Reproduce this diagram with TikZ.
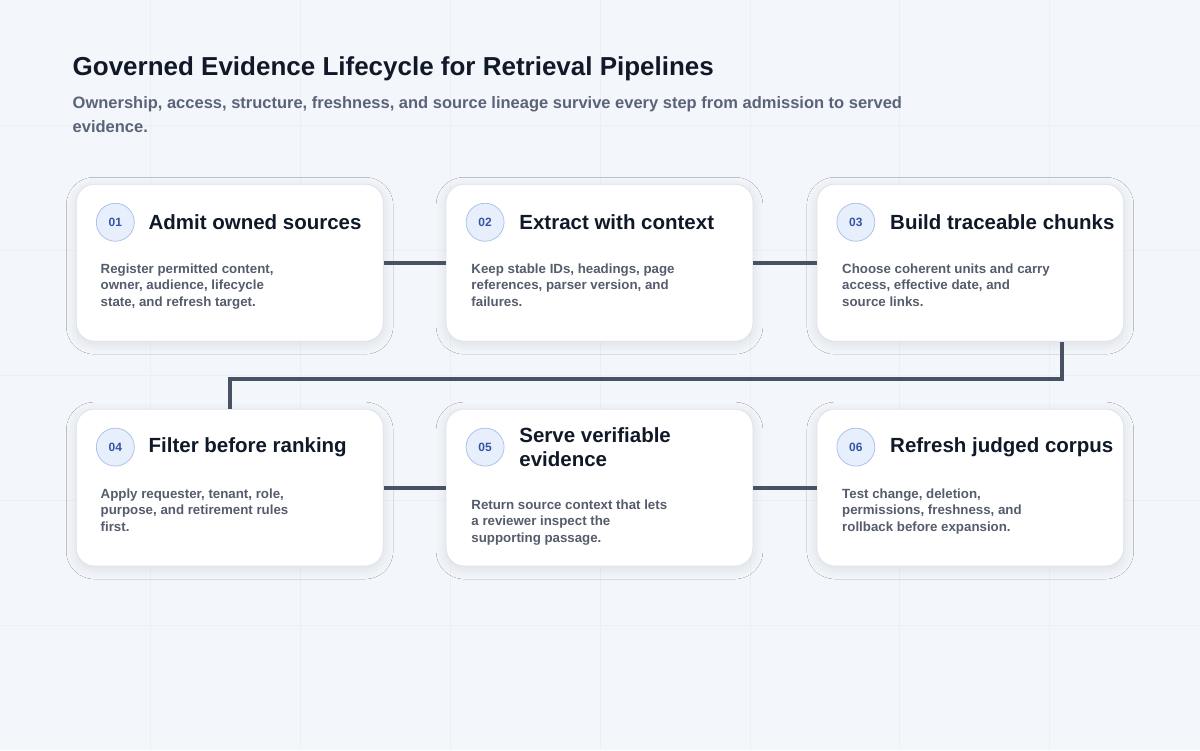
\documentclass[tikz,border=0pt]{standalone}
\usepackage{fontspec}
\setmainfont{Liberation Sans}
\usetikzlibrary{positioning,shadows.blur}
\definecolor{bgc}{RGB}{243,246,251}
\definecolor{gridc}{RGB}{236,240,246}
\definecolor{inkc}{RGB}{17,24,39}
\definecolor{subc}{RGB}{90,100,120}
\definecolor{bodyc}{RGB}{85,92,108}
\definecolor{linkc}{RGB}{72,82,100}
\definecolor{badgec}{RGB}{232,239,252}
\definecolor{badgeb}{RGB}{170,192,235}
\definecolor{numc}{RGB}{52,84,170}
\definecolor{cardb}{RGB}{222,226,234}
\tikzset{every picture/.style={line width=0.75pt},
  card/.style={draw=cardb,fill=white,rounded corners=18pt,minimum width=307pt,minimum height=157pt,inner sep=0pt,
    blur shadow={shadow blur steps=12,shadow blur radius=10pt,shadow xshift=0pt,shadow yshift=-3pt,shadow opacity=10}},
  badge/.style={circle,draw=badgeb,fill=badgec,minimum size=38pt,inner sep=0pt,font=\fontsize{12}{12}\selectfont\bfseries,text=numc},
  ctitle/.style={anchor=west,inner sep=0pt,font=\fontsize{20.5}{24}\selectfont\bfseries,text=inkc,align=left},
  cbody/.style={anchor=north west,inner sep=0pt,font=\fontsize{13.3}{16.5}\selectfont\bfseries,text=bodyc,align=left},
  link/.style={draw=linkc,line width=4pt}}
\begin{document}
\begin{tikzpicture}[x=1pt,y=-1pt]
		\fill[bgc] (0,0) rectangle (1200,750);
		% faint grid
		\foreach \gx in {150,300,...,1050} {\draw[gridc] (\gx,0) -- (\gx,750);}
		\foreach \gy in {125,250,...,625} {\draw[gridc] (0,\gy) -- (1200,\gy);}
		\useasboundingbox (0,0) rectangle (1200,750);

		% heading
		\node[anchor=west,inner sep=0pt,font=\fontsize{26}{30}\selectfont\bfseries,text=inkc] (head) at (72,68) {Governed Evidence Lifecycle for Retrieval Pipelines};
		\node[anchor=north west,inner sep=0pt,font=\fontsize{16.5}{24}\selectfont\bfseries,text=subc,align=left] (sub) at (72,96) {Ownership, access, structure, freshness, and source lineage survive every step from admission to served\\evidence.};

		% cards
		\node[card] (c1) at (229.5,262.5) {};
		\node[card] (c2) at (599.5,262.5) {};
		\node[card] (c3) at (970.5,262.5) {};
		\node[card] (c4) at (229.5,487.5) {};
		\node[card] (c5) at (599.5,487.5) {};
		\node[card] (c6) at (970.5,487.5) {};

		% connectors
		\draw[link] (c1.east) -- (c2.west);
		\draw[link] (c2.east) -- (c3.west);
		\coordinate (t1) at (1062,379);
		\coordinate (t2) at (229.5,379);
		\draw[link] (c3.south -| t1) -- (t1) -- (t2) -- (c4.north);
		\draw[link] (c4.east) -- (c5.west);
		\draw[link] (c5.east) -- (c6.west);

		% card 1
		\node[badge] (b1) at (115,222) {01};
		\node[ctitle] (h1) at (148,222) {Admit owned sources};
		\node[cbody] (d1) at (100,263) {Register permitted content,\\owner, audience, lifecycle\\state, and refresh target.};
		% card 2
		\node[badge] (b2) at (485,222) {02};
		\node[ctitle] (h2) at (519,222) {Extract with context};
		\node[cbody] (d2) at (471,263) {Keep stable IDs, headings, page\\references, parser version, and\\failures.};
		% card 3
		\node[badge] (b3) at (856,222) {03};
		\node[ctitle] (h3) at (890,222) {Build traceable chunks};
		\node[cbody] (d3) at (842,263) {Choose coherent units and carry\\access, effective date, and\\source links.};
		% card 4
		\node[badge] (b4) at (115,447) {04};
		\node[ctitle] (h4) at (148,447) {Filter before ranking};
		\node[cbody] (d4) at (100,488) {Apply requester, tenant, role,\\purpose, and retirement rules\\first.};
		% card 5
		\node[badge] (b5) at (485,447) {05};
		\node[ctitle] (h5) at (519,447) {Serve verifiable\\evidence};
		\node[cbody] (d5) at (471,499) {Return source context that lets\\a reviewer inspect the\\supporting passage.};
		% card 6
		\node[badge] (b6) at (856,447) {06};
		\node[ctitle] (h6) at (890,447) {Refresh judged corpus};
		\node[cbody] (d6) at (842,488) {Test change, deletion,\\permissions, freshness, and\\rollback before expansion.};
\end{tikzpicture}
\end{document}
